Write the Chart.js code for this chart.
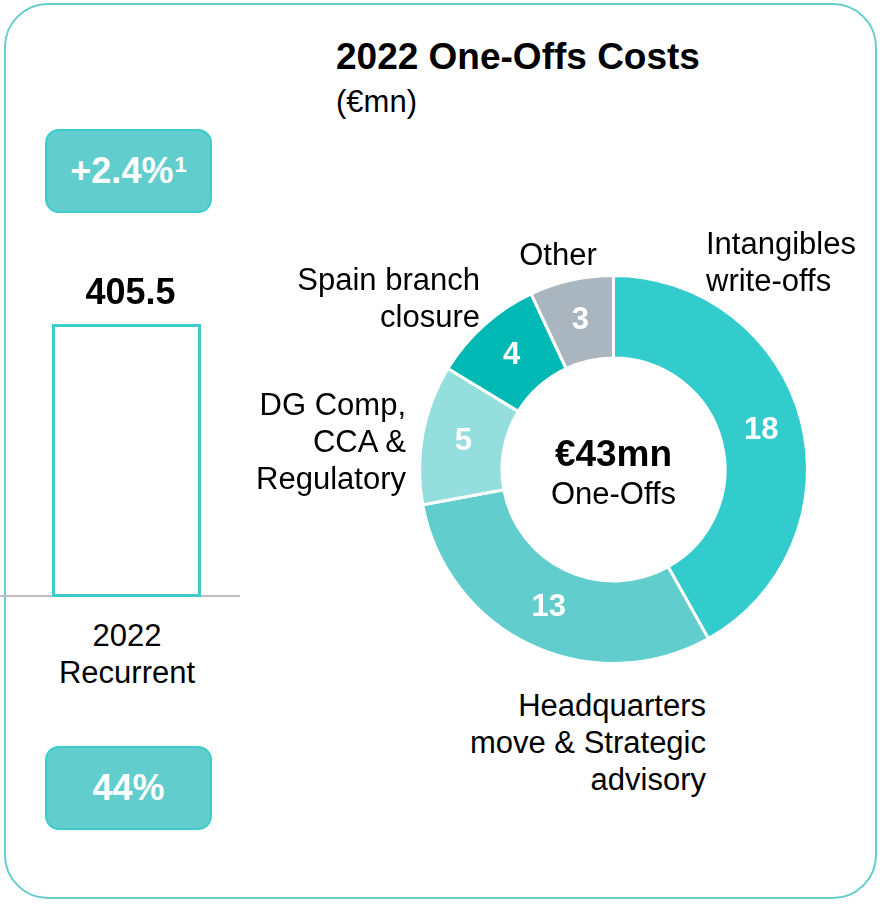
<!DOCTYPE html>
<html>
<head>
<meta charset="utf-8">
<script src="https://cdn.jsdelivr.net/npm/chart.js@4.4.0/dist/chart.umd.min.js"></script>
<style>
  body { margin: 0; background: #fff; font-family: "Liberation Sans", Arial, sans-serif; }
  #wrap { position: relative; width: 884px; height: 904px; overflow: hidden; }
  .frame { position: absolute; left: 4px; top: 3px; width: 869px; height: 892px;
           border: 2.5px solid #66cccc; border-radius: 44px; }
  .t { position: absolute; white-space: nowrap; color: #000; font-size: 31px; line-height: 37px; }
  .r { text-align: right; }
  .c { text-align: center; }
  .box { position: absolute; left: 45px; width: 163px; height: 80px; border-radius: 14px;
         background: #62cdcd; border: 2px solid #3ccccc; color: #fff; font-weight: bold;
         font-size: 36px; display: flex; align-items: center; justify-content: center; }
  .box sup { font-size: 22px; position: relative; top: -6px; margin-left: 1px; }
  canvas { position: absolute; }
</style>
</head>
<body>
<div id="wrap">
  <div class="frame"></div>

  <div class="t" style="left:336px;top:36px;font-size:37px;font-weight:bold;line-height:42px;">2022 One-Offs Costs</div>
  <div class="t" style="left:336px;top:83px;">(€mn)</div>

  <div class="box" style="top:129px;">+2.4%<sup>1</sup></div>
  <div class="box" style="top:746px;">44%</div>

  <canvas id="barChart" width="240" height="360" style="left:0;top:250px;width:240px;height:360px;"></canvas>
  <div class="t c" style="left:27px;width:200px;top:617px;">2022<br>Recurrent</div>

  <canvas id="donutChart" width="425" height="425" style="left:401px;top:257px;width:425px;height:425px;"></canvas>

  <div class="t" style="left:706px;top:225px;">Intangibles<br>write-offs</div>
  <div class="t c" style="left:478px;width:160px;top:236px;">Other</div>
  <div class="t r" style="left:200px;width:280px;top:261px;">Spain branch<br>closure</div>
  <div class="t r" style="left:126px;width:280px;top:386px;">DG Comp,<br>CCA &amp;<br>Regulatory</div>
  <div class="t r" style="left:406px;width:300px;top:687px;">Headquarters<br>move &amp; Strategic<br>advisory</div>
</div>

<script>
// ==============================
// DATA
// ==============================
const barLabels = ["2022 Recurrent"];
const barValues = [405.5];

const oneOffLabels = [
  "Intangibles write-offs",
  "Headquarters move & Strategic advisory",
  "DG Comp, CCA & Regulatory",
  "Spain branch closure",
  "Other"
];
const oneOffValues = [18, 13, 5, 4, 3];
const oneOffColors = ["#33cccc", "#62cdcd", "#94dede", "#00b8b4", "#a9b5bf"];

const FONT = "'Liberation Sans', Arial, sans-serif";

// ==============================
// BAR (recurrent costs)
// ==============================
const barExtras = {
  id: "barExtras",
  beforeDatasetsDraw(chart) {
    const { ctx, chartArea } = chart;
    ctx.save();
    ctx.strokeStyle = "#bfbfbf";
    ctx.lineWidth = 2;
    ctx.beginPath();
    ctx.moveTo(0, chartArea.bottom - 1);
    ctx.lineTo(chart.width, chartArea.bottom - 1);
    ctx.stroke();
    ctx.restore();
  },
  afterDatasetsDraw(chart) {
    const { ctx } = chart;
    const bar = chart.getDatasetMeta(0).data[0];
    ctx.save();
    ctx.fillStyle = "#000";
    ctx.font = "bold 36px " + FONT;
    ctx.textAlign = "center";
    ctx.textBaseline = "middle";
    ctx.fillText(barValues[0].toFixed(1), bar.x + 4, bar.y - 30);
    ctx.restore();
  }
};

new Chart(document.getElementById("barChart"), {
  type: "bar",
  data: {
    labels: barLabels,
    datasets: [{
      data: barValues,
      backgroundColor: "#ffffff",
      borderColor: "#3ccccc",
      borderWidth: 3,
      borderSkipped: false,
      categoryPercentage: 1,
      barPercentage: 149 / 227
    }]
  },
  options: {
    responsive: false,
    animation: false,
    events: [],
    layout: { padding: { left: 13, right: 0, top: 44, bottom: 13 } },
    scales: {
      x: { display: false },
      y: { display: false, min: 0, max: 450 }
    },
    plugins: { legend: { display: false }, tooltip: { enabled: false } }
  },
  plugins: [barExtras]
});

// ==============================
// DOUGHNUT (one-offs)
// ==============================
const donutExtras = {
  id: "donutExtras",
  afterDatasetsDraw(chart) {
    const { ctx } = chart;
    const meta = chart.getDatasetMeta(0);
    ctx.save();
    ctx.fillStyle = "#fff";
    ctx.font = "bold 31px " + FONT;
    ctx.textAlign = "center";
    ctx.textBaseline = "middle";
    meta.data.forEach((arc, i) => {
      const p = arc.tooltipPosition();
      ctx.fillText(String(oneOffValues[i]), p.x, p.y);
    });

    const cx = meta.data[0].x;
    const cy = meta.data[0].y;
    const total = oneOffValues.reduce((a, b) => a + b, 0);
    ctx.fillStyle = "#000";
    ctx.font = "bold 37px " + FONT;
    ctx.fillText("€" + total + "mn", cx, cy - 14);
    ctx.font = "31px " + FONT;
    ctx.fillText("One-Offs", cx, cy + 26);
    ctx.restore();
  }
};

new Chart(document.getElementById("donutChart"), {
  type: "doughnut",
  data: {
    labels: oneOffLabels,
    datasets: [{
      data: oneOffValues,
      backgroundColor: oneOffColors,
      borderColor: "#ffffff",
      borderWidth: 3
    }]
  },
  options: {
    responsive: false,
    animation: false,
    events: [],
    radius: 194,
    cutout: "57.5%",
    layout: { padding: 0 },
    plugins: { legend: { display: false }, tooltip: { enabled: false } }
  },
  plugins: [donutExtras]
});
</script>
</body>
</html>
